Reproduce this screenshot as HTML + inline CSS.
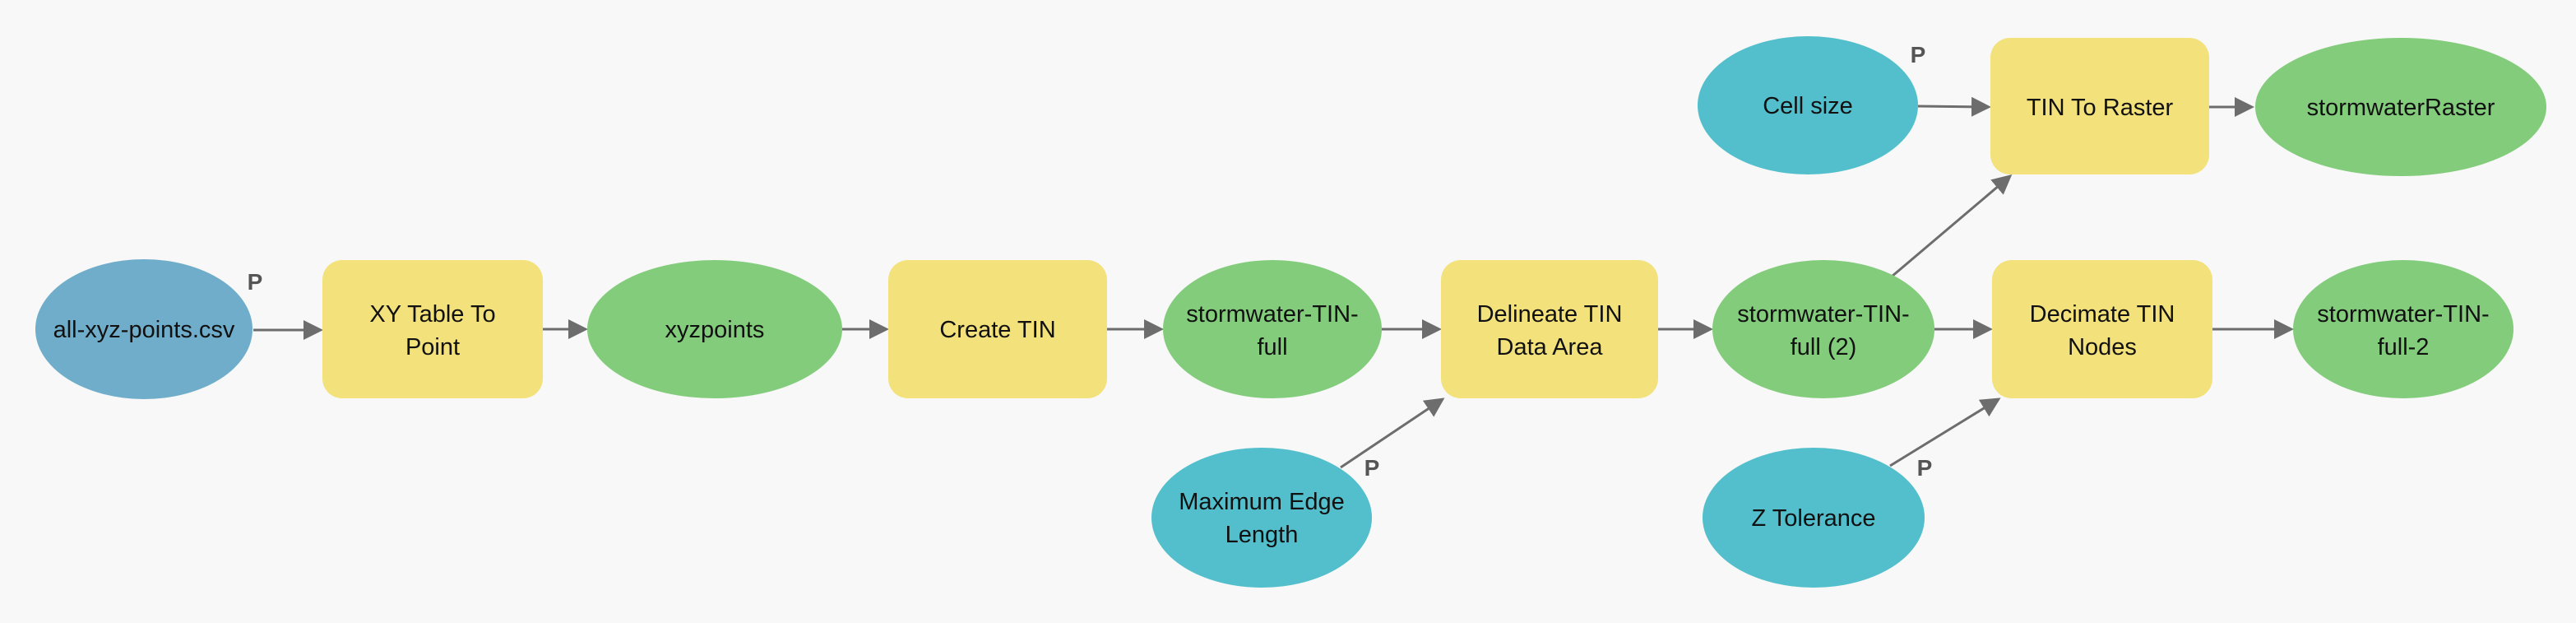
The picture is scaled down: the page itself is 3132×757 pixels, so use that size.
<!DOCTYPE html>
<html><head><style>
html,body{margin:0;padding:0;background:#f7f8f7;}
svg{display:block}
text{font-family:"Liberation Sans",sans-serif;font-size:29px;fill:#111;text-anchor:middle}
.p{font-weight:bold;fill:#555;font-size:28px}
</style></head><body>
<svg width="3132" height="757" viewBox="0 0 3132 757" xmlns="http://www.w3.org/2000/svg">
<defs><marker id="a" markerWidth="8" markerHeight="8" refX="7" refY="4" orient="auto" markerUnits="strokeWidth"><path d="M0,0 L8,4 L0,8 z" fill="#6d6d6d"/></marker></defs>
<rect width="3132" height="757" fill="#f7f8f7"/>
<g stroke="#6d6d6d" stroke-width="3" fill="none" marker-end="url(#a)">
<line x1="308" y1="401" x2="390" y2="401"/>
<line x1="660" y1="400" x2="712" y2="400"/>
<line x1="1024" y1="400" x2="1078" y2="400"/>
<line x1="1346" y1="400" x2="1412" y2="400"/>
<line x1="1680" y1="400" x2="1750" y2="400"/>
<line x1="2016" y1="400" x2="2080" y2="400"/>
<line x1="2352" y1="400" x2="2420" y2="400"/>
<line x1="2690" y1="400" x2="2786" y2="400"/>
<line x1="2332" y1="129" x2="2418" y2="130"/>
<line x1="2686" y1="130" x2="2738" y2="130"/>
<line x1="1630" y1="568" x2="1754" y2="485"/>
<line x1="2300" y1="336" x2="2444" y2="214"/>
<line x1="2298" y1="566" x2="2430" y2="485"/>
</g>
<ellipse cx="175" cy="400" rx="132" ry="85" fill="#6fadcb"/>
<rect x="392" y="316" width="268" height="168" rx="24" fill="#f3e17b"/>
<ellipse cx="869" cy="400" rx="155" ry="84" fill="#83cc7c"/>
<rect x="1080" y="316" width="266" height="168" rx="24" fill="#f3e17b"/>
<ellipse cx="1547" cy="400" rx="133" ry="84" fill="#83cc7c"/>
<rect x="1752" y="316" width="264" height="168" rx="24" fill="#f3e17b"/>
<ellipse cx="1534" cy="629" rx="134" ry="85" fill="#53bfcc"/>
<ellipse cx="2217" cy="400" rx="135" ry="84" fill="#83cc7c"/>
<rect x="2422" y="316" width="268" height="168" rx="24" fill="#f3e17b"/>
<ellipse cx="2922" cy="400" rx="134" ry="84" fill="#83cc7c"/>
<ellipse cx="2205" cy="629" rx="135" ry="85" fill="#53bfcc"/>
<ellipse cx="2198" cy="128" rx="134" ry="84" fill="#53bfcc"/>
<rect x="2420" y="46" width="266" height="166" rx="24" fill="#f3e17b"/>
<ellipse cx="2919" cy="130" rx="177" ry="84" fill="#83cc7c"/>
<text x="175" y="410">all-xyz-points.csv</text>
<text x="526" y="391">XY Table To</text><text x="526" y="431">Point</text>
<text x="869" y="410">xyzpoints</text>
<text x="1213" y="410">Create TIN</text>
<text x="1547" y="391">stormwater-TIN-</text><text x="1547" y="431">full</text>
<text x="1884" y="391">Delineate TIN</text><text x="1884" y="431">Data Area</text>
<text x="1534" y="619">Maximum Edge</text><text x="1534" y="659">Length</text>
<text x="2217" y="391">stormwater-TIN-</text><text x="2217" y="431">full (2)</text>
<text x="2556" y="391">Decimate TIN</text><text x="2556" y="431">Nodes</text>
<text x="2922" y="391">stormwater-TIN-</text><text x="2922" y="431">full-2</text>
<text x="2205" y="639">Z Tolerance</text>
<text x="2198" y="138">Cell size</text>
<text x="2553" y="140">TIN To Raster</text>
<text x="2919" y="140">stormwaterRaster</text>
<text class="p" x="310" y="352">P</text>
<text class="p" x="1668" y="578">P</text>
<text class="p" x="2340" y="578">P</text>
<text class="p" x="2332" y="76">P</text>
</svg>
</body></html>
